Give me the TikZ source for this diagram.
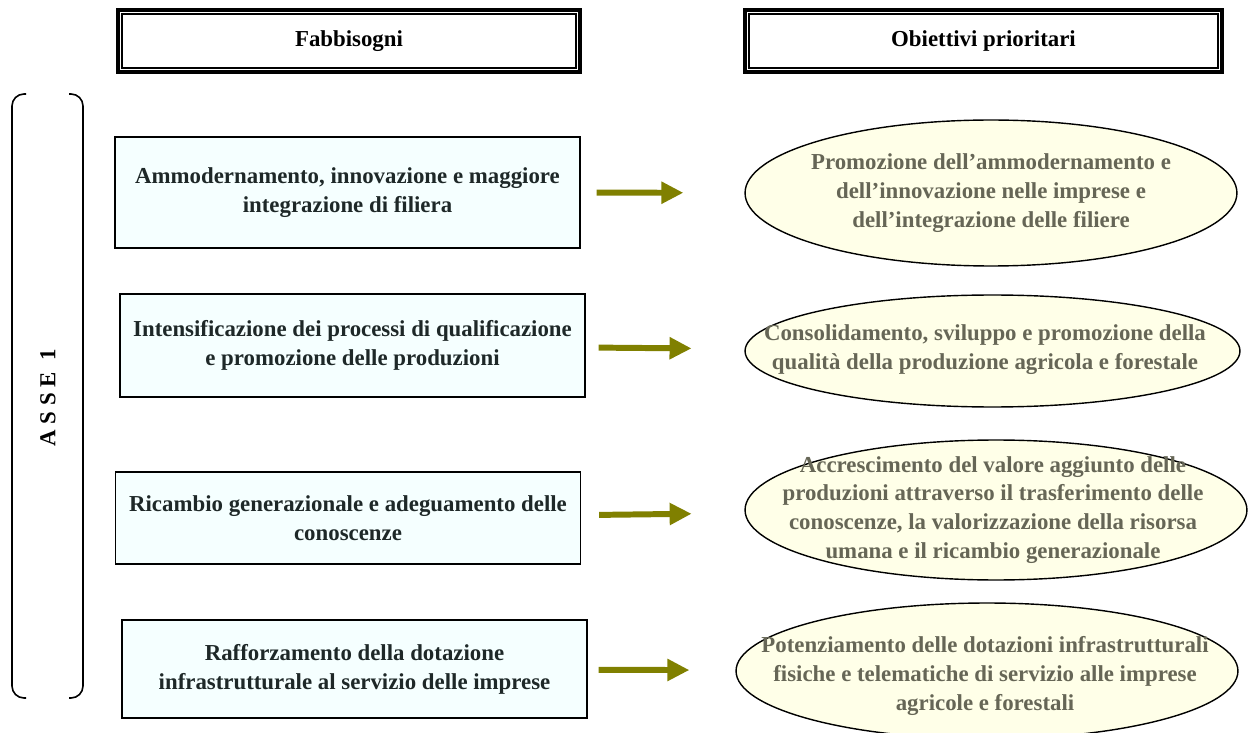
\documentclass[tikz,border=0pt]{standalone}
\usepackage{fontspec}
\setmainfont{Liberation Serif}
\usetikzlibrary{shapes.geometric,arrows.meta}
\definecolor{boxfill}{RGB}{245,255,255}
\definecolor{ellfill}{RGB}{255,255,232}
\definecolor{elltext}{RGB}{102,102,86}
\definecolor{arrowcol}{RGB}{128,128,0}
\definecolor{boxtext}{RGB}{30,40,40}
\begin{document}
\begin{tikzpicture}
    [x=0.02cm,y=-0.02cm,font=\fontsize{13}{16.4}\selectfont\bfseries,
    head/.style={draw,line width=1.8pt,minimum height=1.24cm},
    need/.style={draw,line width=0.8pt,fill=boxfill,text=boxtext,align=center,minimum width=9.3cm},
    obj/.style={ellipse,draw,line width=0.8pt,fill=ellfill,inner sep=0pt},
    objtext/.style={text=elltext,align=center},
    arr/.style={arrowcol,line width=3.4pt,-{Triangle[length=0.44cm,width=0.42cm]}}]
    \useasboundingbox (0,0) rectangle (1248,733);
    % headers
    \node[head,minimum width=9.24cm] (h1) at (349,41) {Fabbisogni};
    \node[head,minimum width=9.54cm] (h2) at (983.5,41) {Obiettivi prioritari};
    \foreach \h in {h1,h2}
        \draw[line width=0.7pt] ([shift={(5.5,5.5)}]\h.north west) rectangle ([shift={(-5.5,-5.5)}]\h.south east);
    % asse
    \draw[line width=0.9pt,rounded corners=0.24cm] (26,94) -- (12,94) -- (12,698) -- (26,698);
    \draw[line width=0.9pt,rounded corners=0.24cm] (69,94) -- (83,94) -- (83,698) -- (69,698);
    \node[rotate=90] (asse) at (48,398) {A S S E \ 1};
    % fabbisogni
    \node[need,minimum height=2.22cm] (b1) at (347.5,192.5) {Ammodernamento, innovazione e maggiore\\integrazione di filiera};
    \node[need,minimum height=2.06cm] (b2) at (352.5,345.5) {Intensificazione dei processi di qualificazione\\e promozione delle produzioni};
    \node[need,minimum height=1.84cm] (b3) at (348,518) {Ricambio generazionale e adeguamento delle\\conoscenze};
    \node[need,minimum height=1.96cm] (b4) at (354.5,669) {Rafforzamento della dotazione\\infrastrutturale al servizio delle imprese};
    % obiettivi
    \node[obj,minimum width=9.84cm,minimum height=2.92cm] (o1) at (991,193) {};
    \node[obj,minimum width=9.9cm,minimum height=2.24cm] (o2) at (992.5,351) {};
    \node[obj,minimum width=10.04cm,minimum height=2.8cm] (o3) at (996,510) {};
    \node[obj,minimum width=10.04cm,minimum height=2.72cm] (o4) at (987,671) {};
    \node[objtext] (t1) at (o1) {Promozione dell’ammodernamento e\\dell’innovazione nelle imprese e\\dell’integrazione delle filiere};
    \node[objtext] (t2) at (985,350) {Consolidamento, sviluppo e promozione della\\qualità della produzione agricola e forestale};
    \node[objtext] (t3) at (993,510) {Accrescimento del valore aggiunto delle\\produzioni attraverso il trasferimento delle\\conoscenze, la valorizzazione della risorsa\\umana e il ricambio generazionale};
    \node[objtext] (t4) at (985,676) {Potenziamento delle dotazioni infrastrutturali\\fisiche e telematiche di servizio alle imprese\\agricole e forestali};
    % frecce
    \path (b1) edge[arr,shorten <=0.32cm,shorten >=1.22cm] (o1)
          (b2) edge[arr,shorten <=0.26cm,shorten >=1.06cm] (o2)
          (b3) edge[arr,shorten <=0.36cm,shorten >=1.06cm] (o3)
          (b4) edge[arr,shorten <=0.22cm,shorten >=0.92cm] (o4);
\end{tikzpicture}
\end{document}
